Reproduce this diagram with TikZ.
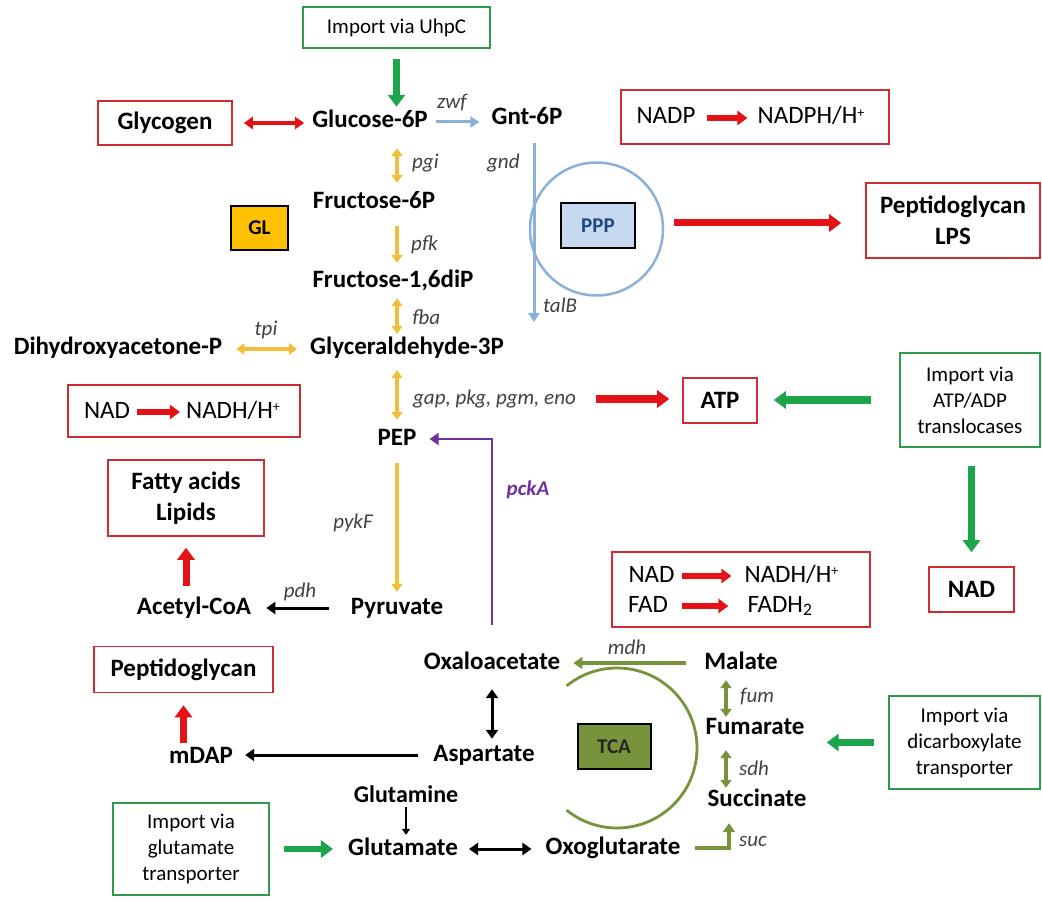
\documentclass[tikz,border=0pt]{standalone}
\usepackage{fontspec}
\setmainfont{Carlito}
\usetikzlibrary{arrows.meta}
\definecolor{boxred}{RGB}{205,45,50}
\definecolor{arrred}{RGB}{228,18,22}
\definecolor{boxgreen}{RGB}{45,155,75}
\definecolor{arrgreen}{RGB}{28,165,75}
\definecolor{yel}{RGB}{240,190,55}
\definecolor{blu}{RGB}{140,176,216}
\definecolor{olivec}{RGB}{119,147,60}
\definecolor{purp}{RGB}{112,48,160}
\definecolor{glfill}{RGB}{255,192,0}
\definecolor{pppfill}{RGB}{198,217,241}
\definecolor{ppptext}{RGB}{31,73,125}
\definecolor{genegray}{RGB}{65,65,65}
\newcommand{\plussup}{\raisebox{0.55ex}{\fontsize{14}{14}\selectfont +}}
\tikzset{
  met/.style={font=\fontsize{25}{28}\selectfont\bfseries, inner sep=0pt, text height=17pt, text depth=5pt},
  txt/.style={font=\fontsize{25}{28}\selectfont, inner sep=0pt, text height=17pt, text depth=5pt},
  gene/.style={font=\fontsize{21}{23}\selectfont\itshape, text=genegray, inner sep=0pt},
  rbox/.style={draw=boxred, line width=1.6pt, fill=white, font=\fontsize{25}{31}\selectfont\bfseries, align=center, inner sep=0pt},
  gbox/.style={draw=boxgreen, line width=1.6pt, fill=white, font=\fontsize{21}{26}\selectfont, align=center, inner sep=0pt},
  glbox/.style={draw=black, line width=2pt, fill=glfill, font=\fontsize{21}{24}\selectfont\bfseries, inner sep=0pt},
  pppbox/.style={draw=black, line width=2pt, fill=pppfill, text=ppptext, font=\fontsize{21}{24}\selectfont\bfseries, inner sep=0pt},
  tcabox/.style={draw=black, line width=2pt, fill=olivec, text=black!85, font=\fontsize{21}{24}\selectfont\bfseries, inner sep=0pt},
  redfat/.style={draw=arrred, line width=7pt, -{Triangle[length=12pt,width=17pt]}},
  redmid/.style={draw=arrred, line width=6pt, -{Triangle[length=10pt,width=14pt]}},
  greenfat/.style={draw=arrgreen, line width=7pt, -{Triangle[length=12pt,width=17pt]}},
  redboth/.style={draw=arrred, line width=3.4pt, {Triangle[length=9pt,width=12pt]}-{Triangle[length=9pt,width=12pt]}},
  yelboth/.style={draw=yel, line width=3.2pt, {Triangle[length=8pt,width=11pt]}-{Triangle[length=8pt,width=11pt]}},
  yelone/.style={draw=yel, line width=3.2pt, -{Triangle[length=8pt,width=11pt]}},
  blueone/.style={draw=blu, line width=3pt, -{Triangle[length=9pt,width=11pt]}},
  blackone/.style={draw=black, line width=3pt, -{Triangle[length=9pt,width=12pt]}},
  blackboth/.style={draw=black, line width=3pt, {Triangle[length=9pt,width=12pt]}-{Triangle[length=9pt,width=12pt]}},
  blackthin/.style={draw=black, line width=1.4pt, -{Triangle[length=6pt,width=8pt]}},
  oliveone/.style={draw=olivec, line width=3.2pt, -{Triangle[length=9pt,width=12pt]}},
  oliveboth/.style={draw=olivec, line width=3.2pt, {Triangle[length=8pt,width=11pt]}-{Triangle[length=8pt,width=11pt]}},
  purpone/.style={draw=purp, line width=2.8pt, -{Triangle[length=9pt,width=12pt]}},
}
\begin{document}
\begin{tikzpicture}[x=1pt,y=-1pt]
\path[use as bounding box, fill=white] (0,0) rectangle (1042,901);

% ---------- nodes ----------
\node[gbox, minimum width=187pt, minimum height=41pt] (imp1) at (396.5,27.5) {Import via UhpC};
\node[met] (g6p) at (370,122) {Glucose-6P};
\node[rbox, minimum width=134pt, minimum height=44pt] (glyc) at (165,123) {Glycogen};
\node[met] (gnt) at (527,119) {Gnt-6P};
\node[rbox, minimum width=268pt, minimum height=54pt] (nadp) at (755,117) {};
\node[txt] (nadp1) at (666,118) {NADP};
\node[txt] (nadp2) at (811,118) {NADPH/H\plussup};
\node[met] (f6p) at (374,203) {Fructose-6P};
\node[glbox, minimum width=57pt, minimum height=44pt] (gl) at (259.5,228) {GL};
\node[circle, draw=blu, line width=2.5pt, minimum size=133pt, inner sep=0pt] (ppp) at (596.5,229) {};
\node[pppbox, minimum width=74pt, minimum height=45pt] (pppb) at (598,225.5) {PPP};
\node[rbox, minimum width=174pt, minimum height=75pt] (pglps) at (953,220.5) {Peptidoglycan\\LPS};
\node[met] (f16) at (393,282) {Fructose-1,6diP};
\node[met] (dhap) at (118,349) {Dihydroxyacetone-P};
\node[met] (ga3p) at (407,349) {Glyceraldehyde-3P};
\node[rbox, minimum width=74pt, minimum height=45pt] (atp) at (720,400.5) {ATP};
\node[gbox, minimum width=140pt, minimum height=94pt] (impatp) at (970,400) {Import via\\ATP/ADP\\translocases};
\node[rbox, minimum width=232pt, minimum height=52pt] (nadl) at (184,411) {};
\node[txt] (nadl1) at (107,412) {NAD};
\node[txt] (nadl2) at (233,412) {NADH/H\plussup};
\node[met] (pep) at (397,439) {PEP};
\node[rbox, minimum width=156pt, minimum height=76pt] (fal) at (186,498) {Fatty acids\\Lipids};
\node[met] (acoa) at (194,608) {Acetyl-CoA};
\node[met] (pyr) at (397,608) {Pyruvate};
\node[rbox, minimum width=258pt, minimum height=75pt] (nadfad) at (741,589.5) {};
\node[txt] (n1) at (651.5,576) {NAD};
\node[txt] (n2) at (791.5,576) {NADH/H\plussup};
\node[txt] (f1) at (648,606) {FAD};
\node[txt] (f2) at (780,606) {FADH\textsubscript{2}};
\node[rbox, minimum width=85pt, minimum height=45pt] (nadr) at (971.5,589.5) {NAD};
\node[met] (oaa) at (492,663) {Oxaloacetate};
\node[met] (malate) at (741,663) {Malate};
\node[rbox, minimum width=179pt, minimum height=46pt] (pg2) at (183.5,669.5) {Peptidoglycan};
\node[met] (fum) at (755,728) {Fumarate};
\node[tcabox, minimum width=73pt, minimum height=45pt] (tca) at (614,746.5) {TCA};
\node[met] (asp) at (484,755) {Aspartate};
\node[met] (mdap) at (201,757) {mDAP};
\node[gbox, minimum width=151pt, minimum height=93pt] (impdic) at (964.5,742.5) {Import via\\dicarboxylate\\transporter};
\node[met, font=\fontsize{24}{27}\selectfont\bfseries] (glnm) at (406,796) {Glutamine};
\node[met] (succ) at (757,800) {Succinate};
\node[gbox, minimum width=156pt, minimum height=92pt] (impglu) at (191,849) {Import via\\glutamate\\transporter};
\node[met] (glu) at (403,849) {Glutamate};
\node[met] (oxo) at (613,848) {Oxoglutarate};

% ---------- gene labels ----------
\node[gene] (gzwf) at (452,103) {zwf};
\node[gene, anchor=west] (gpgi) at (412,163) {pgi};
\node[gene, anchor=west] (ggnd) at (487,163) {gnd};
\node[gene, anchor=west] (gpfk) at (411,245) {pfk};
\node[gene, anchor=west] (gfba) at (412,317) {fba};
\node[gene] (gtpi) at (266,330) {tpi};
\node[gene, anchor=west] (gtalb) at (543,305) {talB};
\node[gene, anchor=west] (ggap) at (413,399) {gap, pkg, pgm, eno};
\node[gene] (gpykf) at (353,523) {pykF};
\node[gene, text=purp, font=\fontsize{21}{23}\selectfont\itshape\bfseries] (gpcka) at (528,490) {pckA};
\node[gene] (gpdh) at (300,592) {pdh};
\node[gene] (gmdh) at (627,647) {mdh};
\node[gene] (gfum) at (757,697) {fum};
\node[gene] (gsdh) at (754,768) {sdh};
\node[gene] (gsuc) at (753,841) {suc};

\coordinate (talbend) at (534,322);
\coordinate (tcac) at (617,748);

% ---------- connectors ----------
\draw[greenfat, shorten <=10pt, shorten >=4pt] (imp1.south) -- (imp1.south |- g6p.north);
\draw[redboth, shorten <=11pt, shorten >=8pt] (glyc.east) -- (glyc.east -| g6p.west);
\draw[blueone, shorten <=8pt, shorten >=12pt] (g6p.east) -- (g6p.east -| gnt.west);
\draw[yelboth, shorten <=15pt, shorten >=9pt] (g6p.south -| pep) -- (f6p.north -| pep);
\draw[yelone, shorten <=12pt, shorten >=8pt] (f6p.south -| pep) -- (f16.north -| pep);
\draw[yelboth, shorten <=5pt, shorten >=4pt] (f16.south -| pep) -- (ga3p.north -| pep);
\draw[yelboth, shorten <=14pt, shorten >=13pt] (dhap.east) -- (ga3p.west);
\draw[yelboth, shorten <=10pt, shorten >=8pt] (ga3p.south -| pep) -- (pep.north);
\draw[yelone, shorten <=13pt, shorten >=5pt] (pep.south) -- (pyr.north);
\draw[blackone, shorten <=22pt, shorten >=15pt] (pyr.west) -- (acoa.east);
\draw[redfat, shorten <=11pt, shorten >=11pt] (acoa.north -| fal) -- (fal.south);
\draw[redfat, shorten <=20pt, shorten >=13pt] (ggap.east) -- (ggap.east -| atp.west);
\draw[greenfat, shorten <=28pt, shorten >=16pt] (impatp.west) -- (impatp.west -| atp.east);
\draw[greenfat, shorten <=18pt, shorten >=14pt] (impatp.south -| nadr) -- (nadr.north);
\draw[purpone, shorten <=27pt, shorten >=13pt] (oaa.north) |- (pep.east);
\draw[blackboth, shorten <=15pt, shorten >=5pt] (oaa.south) -- (oaa.south |- asp.north);
\draw[blackone, shorten <=15pt, shorten >=12pt] (asp.west) -- (asp.west -| mdap.east);
\draw[redfat, shorten <=3pt, shorten >=12pt] (mdap.north -| pg2) -- (pg2.south);
\draw[blackthin, shorten >=3pt] (glnm.south) -- (glnm.south |- glu.north);
\draw[greenfat, line width=6pt, shorten <=14pt, shorten >=15pt] (impglu.east) -- (impglu.east -| glu.west);
\draw[blackboth, shorten <=11pt, shorten >=14pt] (glu.east) -- (glu.east -| oxo.west);
\draw[oliveone, shorten <=14pt, shorten >=12pt] (oxo.east) -| ([xshift=-28pt]succ.south);
\draw[oliveboth, shorten <=11pt, shorten >=1pt] ([xshift=-29pt]fum.south) -- ([xshift=-29pt]fum.south |- succ.north);
\draw[oliveboth, shorten <=6pt] ([xshift=-15pt]malate.south) -- ([xshift=-15pt]malate.south |- fum.north);
\draw[oliveone, shorten <=18pt, shorten >=13pt] (malate.west) -- (malate.west -| oaa.east);
\draw[greenfat, shorten <=14pt, shorten >=22pt] (impdic.west) -- (impdic.west -| fum.east);
\draw[blueone, shorten <=13pt] (gnt.south -| talbend) -- (talbend);
\draw[redfat, shorten <=10pt, shorten >=24pt] ([yshift=6pt]ppp.east) -- ([yshift=6pt]ppp.east -| pglps.west);

% arrows inside boxes
\draw[redmid, shorten <=11pt, shorten >=10pt] (nadp1.east) -- (nadp2.west);
\draw[redmid, shorten <=7pt, shorten >=6pt] (nadl1.east) -- (nadl2.west);
\draw[redmid, shorten <=7pt, shorten >=13pt] (n1.east) -- (n2.west);
\draw[redmid, shorten <=14pt, shorten >=19pt] (f1.east) -- (f1.east -| f2.west);

% TCA arc
\draw[olivec, line width=2.8pt] (tcac) ++(-129:80) arc[start angle=-129, end angle=129, radius=80];
\end{tikzpicture}
\end{document}
